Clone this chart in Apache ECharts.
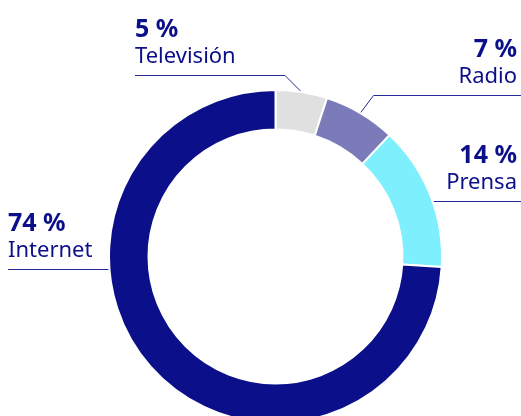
<!DOCTYPE html>
<html>
<head>
<meta charset="utf-8">
<script src="https://cdn.jsdelivr.net/npm/echarts@6/dist/echarts.min.js"></script>
<style>
  html, body { margin: 0; padding: 0; background: #fff; }
  #chart { width: 521px; height: 416px; }
</style>
</head>
<body>
<div id="chart"></div>
<script>
  const categories = ['Televisión', 'Radio', 'Prensa', 'Internet'];
  const shares = [5, 7, 14, 74];

  const navy = '#0b0f89';
  const sliceColors = ['#e0e0e0', '#7b7bb9', '#7ef0fd', navy];
  // where each label sits: side, y of the underline, line end / text anchor
  const labelPlaces = [
    {side: 'left', lineY: 75.5, edge: 135, textX: 135, bend: true},
    {side: 'right', lineY: 95.5, edge: 521, textX: 517, bend: true},
    {side: 'right', lineY: 201.5, edge: 521, textX: 517, bend: false},
    {side: 'left', lineY: 269.5, edge: 8, textX: 8, bend: false}
  ];
  const cx = 275.5, cy = 256.5, rIn = 127, rOut = 166.5;

  const chart = echarts.init(document.getElementById('chart'));
  chart.setOption({
    animation: false,
    series: [{
      type: 'pie',
      center: [cx, cy],
      radius: [rIn, rOut],
      startAngle: 90,
      clockwise: true,
      avoidLabelOverlap: false,
      data: categories.map((c, i) => ({name: c, value: shares[i], itemStyle: {color: sliceColors[i]}})),
      itemStyle: {borderColor: '#fff', borderWidth: 2},
      label: {
        position: 'outside',
        formatter: '{p|{c} %}\n{n|{b}}',
        color: navy,
        rich: {
          p: {fontFamily: 'Noto Sans', fontWeight: 'bold', fontSize: 25, lineHeight: 28, color: navy},
          n: {fontFamily: 'Noto Sans', fontSize: 22, lineHeight: 26, color: navy}
        }
      },
      labelLine: {show: true, length: 10, length2: 10, lineStyle: {color: '#252a9a', width: 1}},
      emphasis: {disabled: true},
      labelLayout: function (params) {
        const pl = labelPlaces[params.dataIndex];
        const left = pl.side === 'left';
        let start, bendPt;
        if (pl.bend) {
          start = params.labelLinePoints[0];
          const dy = start[1] - pl.lineY;
          bendPt = [start[0] + (left ? -dy : dy * 0.75), pl.lineY];
        } else {
          const dx = Math.sqrt(rOut * rOut - (pl.lineY - cy) * (pl.lineY - cy));
          start = [cx + (left ? -dx : dx), pl.lineY];
          bendPt = start;
        }
        return {
          x: pl.textX,
          y: pl.lineY - 6,
          align: left ? 'left' : 'right',
          verticalAlign: 'bottom',
          labelLinePoints: [start, bendPt, [pl.edge, pl.lineY]]
        };
      }
    }]
  });
</script>
</body>
</html>
